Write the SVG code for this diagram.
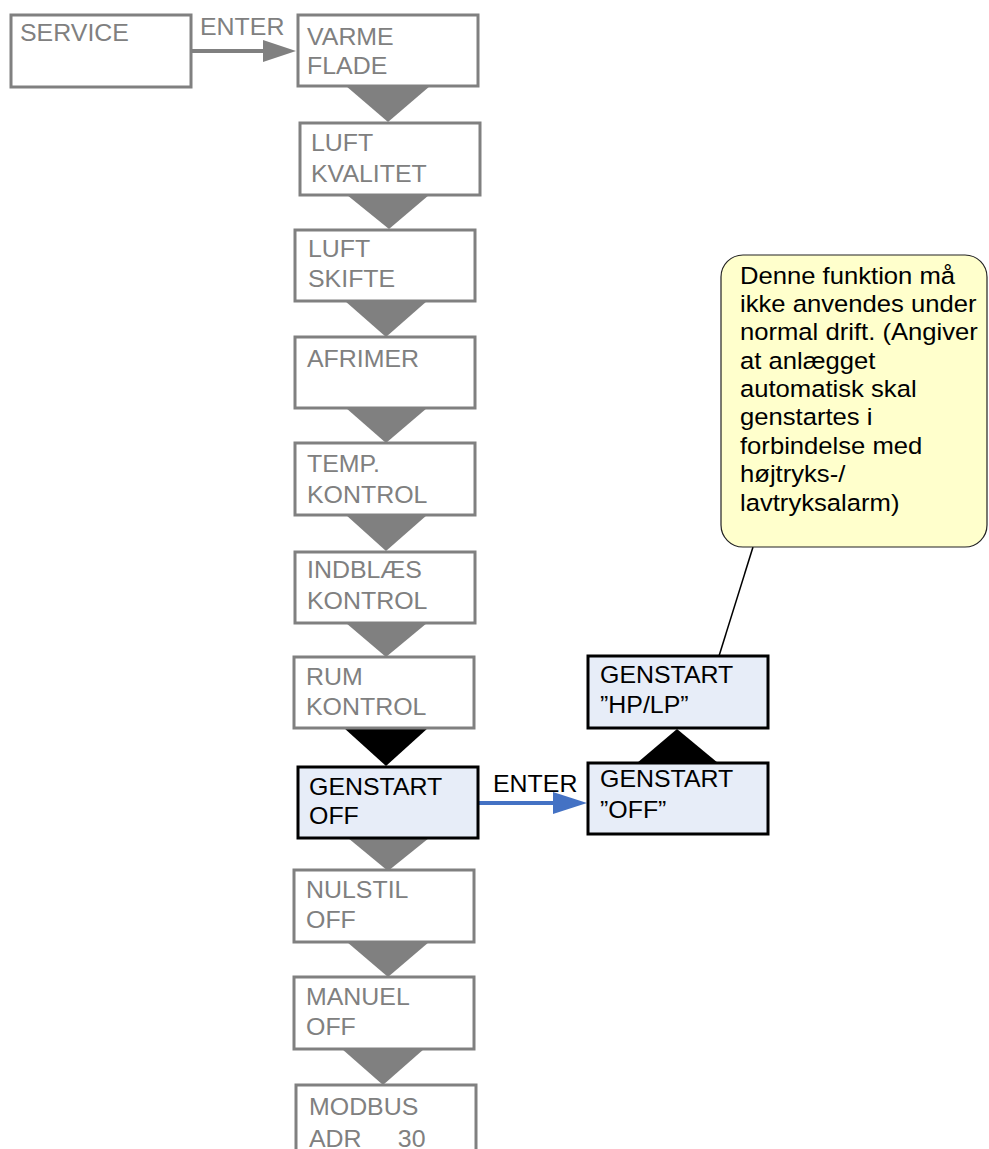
<svg xmlns="http://www.w3.org/2000/svg" width="989" height="1149" viewBox="0 0 989 1149">
<style>
text{font-family:"Liberation Sans",Arial,sans-serif;font-size:23.3px}
.gb{fill:#ffffff;stroke:#808080;stroke-width:3}
.bb{fill:#e7edf8;stroke:#000000;stroke-width:3}
.gt{fill:#808080}
.bt{fill:#000000}
.gtri{fill:#808080}
.btri{fill:#000000}
</style>
<rect width="989" height="1149" fill="#ffffff"/>
<g id="connectors">
<line x1="191" y1="51" x2="266" y2="51" stroke="#808080" stroke-width="4"/>
<polygon points="263,40 296,51 263,62" fill="#808080"/>
<text class="gt" transform="translate(200,35) scale(1.07,1)">ENTER</text>
<polygon class="gtri" points="346,86 430,86 388,122"/>
<polygon class="gtri" points="347,195 429,195 389,229"/>
<polygon class="gtri" points="345,301 427,301 386,337"/>
<polygon class="gtri" points="346,408 427,408 386,443"/>
<polygon class="gtri" points="346,515 427,515 386,551"/>
<polygon class="gtri" points="346,623 427,623 386,657"/>
<polygon class="btri" points="344,728 428,728 386,766"/>
<polygon class="gtri" points="348,838 429,838 388,871"/>
<polygon class="gtri" points="347,942 429,942 388,977"/>
<polygon class="gtri" points="342,1049 424,1049 383,1085"/>
<polygon class="btri" points="637,763 718,763 677,729"/>
<line x1="478" y1="803" x2="556" y2="803" stroke="#4472c4" stroke-width="4"/>
<polygon points="553,792 587,803 553,814" fill="#4472c4"/>
<text class="bt" transform="translate(493,792) scale(1.07,1)">ENTER</text>
<line x1="753" y1="547" x2="719" y2="656" stroke="#000000" stroke-width="1.5"/>
</g>
<g id="service">
<rect class="gb" x="11" y="15" width="180" height="72"/>
<text class="gt" transform="translate(20,41) scale(1.07,1)">SERVICE</text>
</g>
<g id="varme-flade">
<rect class="gb" x="298" y="15" width="180" height="71"/>
<text class="gt" transform="translate(307,45) scale(1.07,1)"><tspan x="0" y="0">VARME</tspan><tspan x="0" y="29">FLADE</tspan></text>
</g>
<g id="luft-kvalitet">
<rect class="gb" x="300" y="123" width="180" height="72"/>
<text class="gt" transform="translate(311,151) scale(1.07,1)"><tspan x="0" y="0">LUFT</tspan><tspan x="0" y="31">KVALITET</tspan></text>
</g>
<g id="luft-skifte">
<rect class="gb" x="295" y="230" width="180" height="71"/>
<text class="gt" transform="translate(308,257) scale(1.07,1)"><tspan x="0" y="0">LUFT</tspan><tspan x="0" y="30">SKIFTE</tspan></text>
</g>
<g id="afrimer">
<rect class="gb" x="295" y="337" width="180" height="71"/>
<text class="gt" transform="translate(307,367) scale(1.07,1)">AFRIMER</text>
</g>
<g id="temp-kontrol">
<rect class="gb" x="295" y="443" width="180" height="72"/>
<text class="gt" transform="translate(307,472) scale(1.07,1)"><tspan x="0" y="0">TEMP.</tspan><tspan x="0" y="31">KONTROL</tspan></text>
</g>
<g id="indblaes-kontrol">
<rect class="gb" x="295" y="552" width="180" height="71"/>
<text class="gt" transform="translate(307,578) scale(1.07,1)"><tspan x="0" y="0">INDBLÆS</tspan><tspan x="0" y="31">KONTROL</tspan></text>
</g>
<g id="rum-kontrol">
<rect class="gb" x="294" y="657" width="180" height="71"/>
<text class="gt" transform="translate(306,685) scale(1.07,1)"><tspan x="0" y="0">RUM</tspan><tspan x="0" y="30">KONTROL</tspan></text>
</g>
<g id="genstart-off">
<rect class="bb" x="298" y="767" width="180" height="71"/>
<text class="bt" transform="translate(309,795) scale(1.07,1)"><tspan x="0" y="0">GENSTART</tspan><tspan x="0" y="29">OFF</tspan></text>
</g>
<g id="genstart-off-q">
<rect class="bb" x="588" y="763" width="180" height="71"/>
<text class="bt" transform="translate(600,787) scale(1.07,1)"><tspan x="0" y="0">GENSTART</tspan><tspan x="0" y="31">”OFF”</tspan></text>
</g>
<g id="genstart-hplp">
<rect class="bb" x="588" y="656" width="180" height="72"/>
<text class="bt" transform="translate(600,683) scale(1.07,1)"><tspan x="0" y="0">GENSTART</tspan><tspan x="0" y="30">”HP/LP”</tspan></text>
</g>
<g id="nulstil-off">
<rect class="gb" x="294" y="870" width="180" height="72"/>
<text class="gt" transform="translate(306,898) scale(1.07,1)"><tspan x="0" y="0">NULSTIL</tspan><tspan x="0" y="30">OFF</tspan></text>
</g>
<g id="manuel-off">
<rect class="gb" x="294" y="977" width="180" height="72"/>
<text class="gt" transform="translate(306,1005) scale(1.07,1)"><tspan x="0" y="0">MANUEL</tspan><tspan x="0" y="30">OFF</tspan></text>
</g>
<g id="modbus">
<rect class="gb" x="296" y="1085" width="180" height="80"/>
<text class="gt" transform="translate(309,1115) scale(1.07,1)"><tspan x="0" y="0">MODBUS</tspan><tspan x="0" y="32">ADR</tspan><tspan x="83" y="32">30</tspan></text>
</g>
<g id="note">
<rect x="721" y="255" width="266" height="292" rx="22" ry="22" fill="#ffffcc" stroke="#222222" stroke-width="1.2"/>
<text class="bt" transform="translate(740,283.5) scale(1.1,1)"><tspan x="0" y="0">Denne funktion må</tspan><tspan x="0" y="28.4">ikke anvendes under</tspan><tspan x="0" y="56.8">normal drift. (Angiver</tspan><tspan x="0" y="85.2">at anlægget</tspan><tspan x="0" y="113.6">automatisk skal</tspan><tspan x="0" y="142">genstartes i</tspan><tspan x="0" y="170.4">forbindelse med</tspan><tspan x="0" y="198.8">højtryks-/</tspan><tspan x="0" y="227.2">lavtryksalarm)</tspan></text>
</g>
</svg>
